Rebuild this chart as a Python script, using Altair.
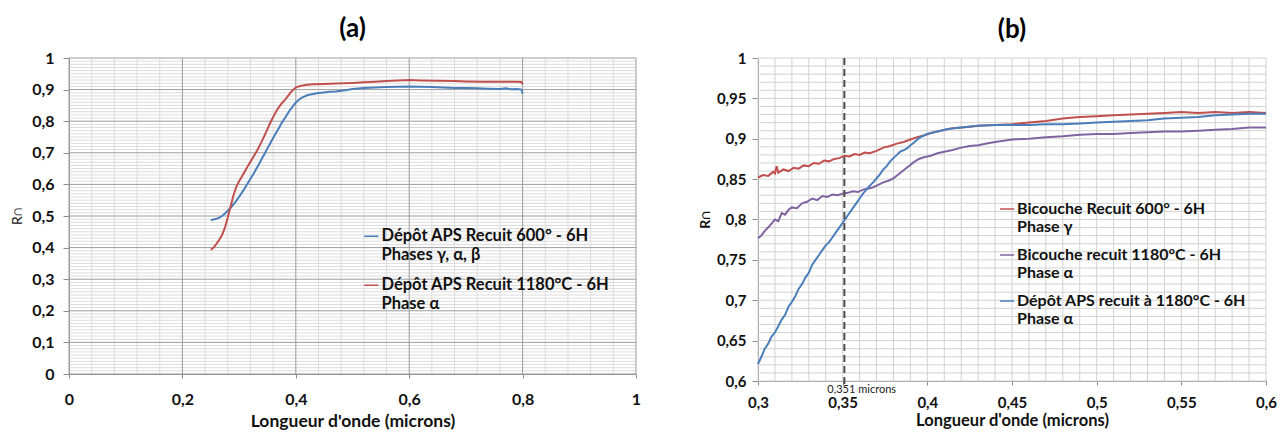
import altair as alt
import pandas as pd

# ---------------- Panel (a) data ----------------
a_blue_x = [0.250, 0.255, 0.260, 0.265, 0.270, 0.275, 0.280, 0.285, 0.290, 0.295,
            0.300, 0.305, 0.310, 0.315, 0.320, 0.325, 0.330, 0.335, 0.340, 0.345,
            0.350, 0.355, 0.360, 0.365, 0.370, 0.375, 0.380, 0.385, 0.390, 0.395,
            0.400, 0.405, 0.410, 0.415, 0.420, 0.430, 0.440, 0.450, 0.460, 0.470,
            0.480, 0.490, 0.500, 0.520, 0.540, 0.560, 0.580, 0.600, 0.620, 0.640,
            0.660, 0.680, 0.700, 0.720, 0.740, 0.760, 0.770, 0.780, 0.790, 0.798, 0.800]
a_blue_y = [0.487, 0.489, 0.491, 0.495, 0.500, 0.508, 0.517, 0.526, 0.537, 0.548,
            0.561, 0.574, 0.588, 0.603, 0.618, 0.632, 0.648, 0.664, 0.681, 0.697,
            0.714, 0.730, 0.747, 0.763, 0.778, 0.794, 0.808, 0.822, 0.836, 0.848,
            0.859, 0.867, 0.874, 0.878, 0.882, 0.886, 0.889, 0.891, 0.893, 0.894,
            0.896, 0.899, 0.902, 0.905, 0.907, 0.908, 0.909, 0.910, 0.909, 0.908,
            0.907, 0.905, 0.905, 0.904, 0.903, 0.902, 0.904, 0.901, 0.902, 0.900, 0.887]

a_red_x = [0.250, 0.255, 0.260, 0.265, 0.270, 0.275, 0.280, 0.285, 0.290, 0.295,
           0.300, 0.305, 0.310, 0.315, 0.320, 0.325, 0.330, 0.335, 0.340, 0.345,
           0.350, 0.355, 0.360, 0.365, 0.370, 0.375, 0.380, 0.385, 0.390, 0.395,
           0.400, 0.405, 0.410, 0.420, 0.430, 0.450, 0.470, 0.500, 0.520, 0.540,
           0.560, 0.580, 0.600, 0.620, 0.650, 0.680, 0.700, 0.730, 0.760, 0.790, 0.798, 0.800]
a_red_y = [0.393, 0.400, 0.412, 0.425, 0.440, 0.463, 0.495, 0.530, 0.565, 0.592,
           0.610, 0.625, 0.641, 0.657, 0.672, 0.687, 0.702, 0.718, 0.736, 0.755,
           0.775, 0.795, 0.813, 0.830, 0.844, 0.856, 0.866, 0.877, 0.889, 0.899,
           0.906, 0.910, 0.912, 0.915, 0.917, 0.918, 0.919, 0.921, 0.923, 0.925,
           0.927, 0.929, 0.930, 0.929, 0.928, 0.927, 0.926, 0.925, 0.925, 0.925, 0.924, 0.917]

a_series = ["Dépôt APS Recuit 600° - 6H|Phases γ, α, β",
            "Dépôt APS Recuit 1180°C - 6H|Phase α"]
a_colors = ["#4A7EBB", "#C0504D"]
a_x_ticks = [0, 0.2, 0.4, 0.6, 0.8, 1]
a_y_ticks = [0, 0.1, 0.2, 0.3, 0.4, 0.5, 0.6, 0.7, 0.8, 0.9, 1]

# ---------------- Panel (b) data ----------------
b_red_x = [0.300, 0.303, 0.306, 0.309, 0.310, 0.311, 0.312, 0.315, 0.318, 0.321,
           0.324, 0.327, 0.330, 0.333, 0.336, 0.339, 0.342, 0.345, 0.348, 0.351,
           0.354, 0.357, 0.360, 0.363, 0.366, 0.370, 0.374, 0.378, 0.382, 0.386,
           0.390, 0.394, 0.398, 0.402, 0.406, 0.410, 0.415, 0.420, 0.425, 0.430,
           0.440, 0.450, 0.460, 0.470, 0.480, 0.490, 0.500, 0.510, 0.520, 0.530,
           0.540, 0.550, 0.560, 0.570, 0.580, 0.590, 0.600]
b_red_y = [0.852, 0.855, 0.854, 0.859, 0.857, 0.866, 0.858, 0.862, 0.860, 0.864,
           0.863, 0.867, 0.866, 0.870, 0.869, 0.873, 0.872, 0.875, 0.876, 0.879,
           0.878, 0.881, 0.880, 0.883, 0.882, 0.885, 0.889, 0.891, 0.894, 0.896,
           0.899, 0.902, 0.904, 0.907, 0.909, 0.911, 0.913, 0.914, 0.915, 0.916,
           0.917, 0.918, 0.920, 0.922, 0.925, 0.927, 0.928, 0.929, 0.930, 0.931,
           0.932, 0.933, 0.932, 0.933, 0.932, 0.933, 0.932]

b_purple_x = [0.300, 0.302, 0.304, 0.306, 0.308, 0.310, 0.312, 0.314, 0.316, 0.318,
              0.320, 0.323, 0.326, 0.329, 0.332, 0.335, 0.338, 0.341, 0.344, 0.347,
              0.350, 0.353, 0.356, 0.359, 0.362, 0.365, 0.368, 0.371, 0.374, 0.377,
              0.380, 0.383, 0.386, 0.389, 0.392, 0.395, 0.398, 0.402, 0.406, 0.410,
              0.415, 0.420, 0.425, 0.430, 0.435, 0.440, 0.450, 0.460, 0.470, 0.480,
              0.490, 0.500, 0.510, 0.520, 0.530, 0.540, 0.550, 0.560, 0.570, 0.580,
              0.590, 0.600]
b_purple_y = [0.777, 0.780, 0.786, 0.790, 0.795, 0.800, 0.798, 0.808, 0.806, 0.812,
              0.815, 0.814, 0.820, 0.822, 0.826, 0.824, 0.829, 0.828, 0.831, 0.830,
              0.832, 0.833, 0.835, 0.834, 0.837, 0.838, 0.840, 0.843, 0.846, 0.848,
              0.851, 0.856, 0.861, 0.866, 0.871, 0.875, 0.877, 0.879, 0.882, 0.884,
              0.886, 0.889, 0.891, 0.892, 0.894, 0.896, 0.899, 0.900, 0.902, 0.903,
              0.905, 0.906, 0.906, 0.907, 0.908, 0.909, 0.909, 0.910, 0.911, 0.912,
              0.914, 0.914]

b_blue_x = [0.300, 0.302, 0.304, 0.306, 0.308, 0.310, 0.312, 0.314, 0.316, 0.318,
            0.320, 0.322, 0.324, 0.326, 0.328, 0.330, 0.332, 0.334, 0.336, 0.338,
            0.340, 0.342, 0.344, 0.346, 0.348, 0.350, 0.352, 0.354, 0.356, 0.358,
            0.360, 0.362, 0.364, 0.366, 0.368, 0.370, 0.372, 0.374, 0.376, 0.378,
            0.380, 0.382, 0.384, 0.386, 0.388, 0.390, 0.392, 0.394, 0.396, 0.398,
            0.400, 0.404, 0.408, 0.412, 0.416, 0.420, 0.430, 0.440, 0.450, 0.460,
            0.470, 0.480, 0.490, 0.500, 0.510, 0.520, 0.530, 0.540, 0.550, 0.560,
            0.570, 0.580, 0.590, 0.600]
b_blue_y = [0.621, 0.630, 0.640, 0.646, 0.655, 0.660, 0.668, 0.676, 0.682, 0.692,
            0.698, 0.705, 0.714, 0.720, 0.728, 0.734, 0.744, 0.750, 0.756, 0.762,
            0.768, 0.772, 0.778, 0.784, 0.790, 0.796, 0.802, 0.808, 0.814, 0.820,
            0.826, 0.832, 0.837, 0.842, 0.846, 0.851, 0.856, 0.862, 0.866, 0.872,
            0.876, 0.880, 0.884, 0.886, 0.888, 0.892, 0.895, 0.899, 0.902, 0.904,
            0.906, 0.908, 0.910, 0.912, 0.913, 0.914, 0.916, 0.917, 0.917, 0.917,
            0.918, 0.918, 0.919, 0.920, 0.921, 0.922, 0.923, 0.925, 0.926, 0.927,
            0.929, 0.930, 0.931, 0.931]

b_series = ["Bicouche Recuit 600° - 6H|Phase γ",
            "Bicouche recuit 1180°C - 6H|Phase α",
            "Dépôt APS recuit à 1180°C - 6H|Phase α"]
b_colors = ["#C0504D", "#8064A2", "#4A7EBB"]
b_x_ticks = [0.3, 0.35, 0.4, 0.45, 0.5, 0.55, 0.6]
b_y_ticks = [0.6, 0.65, 0.7, 0.75, 0.8, 0.85, 0.9, 0.95, 1]
b_marker_x = [0.351]
b_marker_label = ["0,351 microns"]

FONT = "Lato"
LBL = "replace(format(datum.value, '.2~f'), '.', ',')"


def frame(xs, ys, series):
    parts = []
    for xv, yv, s in zip(xs, ys, series):
        parts.append(pd.DataFrame({"x": xv, "y": yv, "series": s}))
    return pd.concat(parts, ignore_index=True)


def grid_layers(xvals, yvals, xscale, yscale, xaxis, yaxis, W, H, color, width=1):
    v = alt.Chart(pd.DataFrame({"x": xvals})).mark_rule(color=color, strokeWidth=width).encode(
        x=alt.X("x:Q", scale=xscale, axis=xaxis), y=alt.value(0), y2=alt.value(H))
    h = alt.Chart(pd.DataFrame({"y": yvals})).mark_rule(color=color, strokeWidth=width).encode(
        y=alt.Y("y:Q", scale=yscale, axis=yaxis), x=alt.value(0), x2=alt.value(W))
    return [v, h]


# ---------------- Panel (a) ----------------
WA, HA = 567, 316
xs_a = alt.Scale(domain=[0, 1], nice=False, zero=False)
ys_a = alt.Scale(domain=[0, 1], nice=False, zero=False)
xa_axis = alt.Axis(values=a_x_ticks, labelExpr=LBL, grid=False, labelFlush=False,
                   title="Longueur d'onde (microns)", titleFontSize=17.5, tickSize=4,
                   labelFontSize=16, labelPadding=13, titlePadding=5)
ya_axis = alt.Axis(values=a_y_ticks, labelExpr=LBL, grid=False,
                   title="R∩", titleFontWeight="normal", tickSize=6, labelFontSize=16,
                   labelPadding=9, titlePadding=7)
minor_ax = [round(i * 0.04, 2) for i in range(26) if round(i * 0.04, 2) not in a_x_ticks]
minor_ay = [round(i * 0.01, 2) for i in range(101) if (i % 10) != 0]

df_a = frame([a_blue_x, a_red_x], [a_blue_y, a_red_y], a_series)

lines_a = alt.Chart(df_a).mark_line(strokeWidth=2).encode(
    x=alt.X("x:Q", scale=xs_a, axis=xa_axis),
    y=alt.Y("y:Q", scale=ys_a, axis=ya_axis),
    color=alt.Color("series:N",
                    scale=alt.Scale(domain=a_series, range=a_colors),
                    legend=alt.Legend(orient="none", legendX=294, legendY=170, title=None,
                                      symbolType="stroke", symbolStrokeWidth=1.5, symbolSize=200,
                                      labelExpr="split(datum.label, '|')", labelFont=FONT,
                                      labelFontWeight="bold", labelFontSize=16.5, labelColor="#111",
                                      labelLimit=400, rowPadding=13, labelOffset=2)),
    order=alt.Order("x:Q"),
)

chart_a = alt.layer(
    *grid_layers(minor_ax, minor_ay, xs_a, ys_a, xa_axis, ya_axis, WA, HA, "#DCDCDC"),
    *grid_layers(a_x_ticks, a_y_ticks, xs_a, ys_a, xa_axis, ya_axis, WA, HA, "#9C9C9C"),
    lines_a,
).properties(width=WA, height=HA,
             title=alt.TitleParams("(a)", fontSize=26, font=FONT, fontWeight="bold", offset=8))

# ---------------- Panel (b) ----------------
WB, HB = 508, 323
xs_b = alt.Scale(domain=[0.3, 0.6], nice=False, zero=False)
ys_b = alt.Scale(domain=[0.6, 1], nice=False, zero=False)
xb_axis = alt.Axis(values=b_x_ticks, labelExpr=LBL, grid=False, labelFlush=False,
                   title="Longueur d'onde (microns)", titleFontSize=16.5, tickSize=4,
                   labelPadding=10, titlePadding=2)
yb_axis = alt.Axis(values=b_y_ticks, labelExpr=LBL, grid=False,
                   title="R∩", tickSize=6, labelPadding=6, titlePadding=4)
minor_bx = [round(0.3 + i * 0.01, 2) for i in range(31)]
minor_by = [round(0.6 + i * 0.01, 2) for i in range(41)]

df_b = frame([b_red_x, b_purple_x, b_blue_x], [b_red_y, b_purple_y, b_blue_y], b_series)

lines_b = alt.Chart(df_b).mark_line(strokeWidth=2).encode(
    x=alt.X("x:Q", scale=xs_b, axis=xb_axis),
    y=alt.Y("y:Q", scale=ys_b, axis=yb_axis),
    color=alt.Color("series:N",
                    scale=alt.Scale(domain=b_series, range=b_colors),
                    legend=alt.Legend(orient="none", legendX=241, legendY=143, title=None,
                                      symbolType="stroke", symbolStrokeWidth=1.5, symbolSize=200,
                                      labelExpr="split(datum.label, '|')", labelFont=FONT,
                                      labelFontWeight="bold", labelFontSize=16, labelColor="#111",
                                      labelLimit=400, rowPadding=12, labelOffset=2)),
    order=alt.Order("x:Q"),
)

marker = alt.Chart(pd.DataFrame({"x": b_marker_x, "t": b_marker_label}))
marker_rule = marker.mark_rule(color="#4D4D4D", strokeWidth=2, strokeDash=[7, 4]).encode(
    x=alt.X("x:Q", scale=xs_b, axis=xb_axis), y=alt.value(0), y2=alt.value(HB + 4))
marker_text = marker.mark_text(align="left", baseline="middle", dx=-17, fontSize=11,
                               font=FONT, color="#222").encode(
    x=alt.X("x:Q", scale=xs_b, axis=xb_axis), y=alt.value(HB + 9), text="t:N")

chart_b = alt.layer(
    *grid_layers(minor_bx, minor_by, xs_b, ys_b, xb_axis, yb_axis, WB, HB, "#D2D2D2"),
    lines_b,
    marker_rule,
    marker_text,
).properties(width=WB, height=HB,
             title=alt.TitleParams("(b)", fontSize=26, font=FONT, fontWeight="bold", offset=8))

chart = alt.hconcat(chart_a, chart_b, spacing=57).resolve_scale(
    color="independent"
).resolve_legend(color="independent").properties(
    padding={"left": 2, "top": 8, "right": 0, "bottom": 0}
).configure(background="white").configure_view(stroke=None).configure_axis(
    labelFont=FONT, labelFontWeight="bold", labelFontSize=15, labelColor="#111",
    titleFont=FONT, titleFontWeight="bold", titleFontSize=14, titleColor="#111",
    domainColor="#8C8C8C", tickColor="#8C8C8C",
)

chart.save("out.html", embed_options={"renderer": "svg", "actions": False})
